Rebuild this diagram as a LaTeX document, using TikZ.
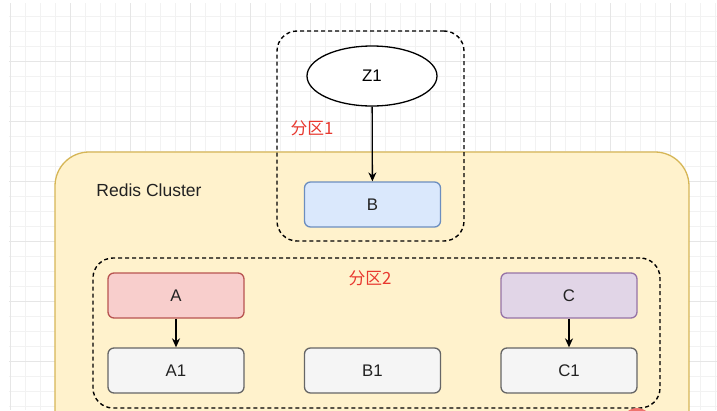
\documentclass[tikz,border=0pt]{standalone}
\usepackage{fontspec}
\setmainfont{Liberation Sans}
\newfontfamily\cjk{Noto Sans CJK SC}
\usetikzlibrary{arrows.meta,shapes.geometric}
\definecolor{gridminor}{HTML}{F2F2F2}
\definecolor{gridmajor}{HTML}{E6E6E6}
\definecolor{clusterfill}{HTML}{FFF2CC}
\definecolor{clusterdraw}{HTML}{D6B656}
\definecolor{bluefill}{HTML}{DAE8FC}
\definecolor{bluedraw}{HTML}{6C8EBF}
\definecolor{redfill}{HTML}{F8CECC}
\definecolor{reddraw}{HTML}{B85450}
\definecolor{purplefill}{HTML}{E1D5E7}
\definecolor{purpledraw}{HTML}{9673A6}
\definecolor{greyfill}{HTML}{F5F5F5}
\definecolor{greydraw}{HTML}{666666}
\definecolor{labelred}{HTML}{E8382F}
\definecolor{textdark}{HTML}{222222}
\tikzset{
  boxbase/.style={rectangle, rounded corners=6pt, line width=1.3pt, minimum width=136pt, minimum height=45pt, inner sep=0pt, font=\fontsize{16.8}{19}\selectfont, text=textdark},
  bluebox/.style={boxbase, fill=bluefill, draw=bluedraw},
  redbox/.style={boxbase, fill=redfill, draw=reddraw},
  purplebox/.style={boxbase, fill=purplefill, draw=purpledraw},
  greybox/.style={boxbase, fill=greyfill, draw=greydraw},
  partbox/.style={rectangle, rounded corners=20pt, draw=black, line width=1.4pt, dash pattern=on 4pt off 3pt, inner sep=0pt},
  clusterbox/.style={rectangle, rounded corners=34pt, fill=clusterfill, draw=clusterdraw, line width=1.3pt, inner sep=0pt},
  parttext/.style={text=labelred, font=\cjk\fontsize{16.8}{19}\selectfont, inner sep=0pt},
  conn/.style={-{Stealth[length=9pt,width=8pt]}, line width=1.3pt, draw=black}
}
\begin{document}
\begin{tikzpicture}[x=1pt,y=-1pt]
\clip (0,0) rectangle (717,410);
\fill[white] (0,0) rectangle (717,410);
% grid
\foreach \x in {10,25,...,716} \draw[gridminor, line width=0.8pt] (\x,3) -- (\x,410);
\foreach \y in {16,31,...,410} \draw[gridminor, line width=0.8pt] (9,\y) -- (717,\y);
\foreach \x in {10,70,...,716} \draw[gridmajor, line width=1pt] (\x,3) -- (\x,410);
\foreach \y in {61,121,...,410} \draw[gridmajor, line width=1pt] (9,\y) -- (717,\y);
% cluster
\node[clusterbox, minimum width=634pt, minimum height=300pt] (cluster) at (372,302) {};
\node[text=textdark, font=\fontsize{17.5}{20}\selectfont, inner sep=0pt] (clustertitle) at (149,190) {Redis Cluster};
% partition 1
\node[partbox, minimum width=187pt, minimum height=210pt] (part1) at (370.5,136) {};
\node[ellipse, draw=black, fill=white, line width=1.3pt, minimum width=130pt, minimum height=60pt, inner sep=0pt, font=\fontsize{16.8}{19}\selectfont] (z1) at (372,76) {Z1};
\node[parttext] (p1label) at (312,128) {分区1};
\node[bluebox] (b) at (372.5,204.5) {B};
% partition 2
\node[partbox, minimum width=567pt, minimum height=150pt] (part2) at (376.5,333) {};
\node[parttext] (p2label) at (370,278) {分区2};
\node[redbox] (a) at (176,295.5) {A};
\node[purplebox] (c) at (569,295.5) {C};
\node[greybox] (a1) at (176,370.5) {A1};
\node[greybox] (b1) at (372.5,370.5) {B1};
\node[greybox] (c1) at (569,370.5) {C1};
% connectors
\draw[conn] (z1) -- (b);
\draw[conn] (a) -- (a1);
\draw[conn] (c) -- (c1);
% partial red shape at bottom edge
\node[circle, fill=labelred!70, minimum size=30pt, inner sep=0pt] (redmark) at (637,423) {};
\end{tikzpicture}
\end{document}
